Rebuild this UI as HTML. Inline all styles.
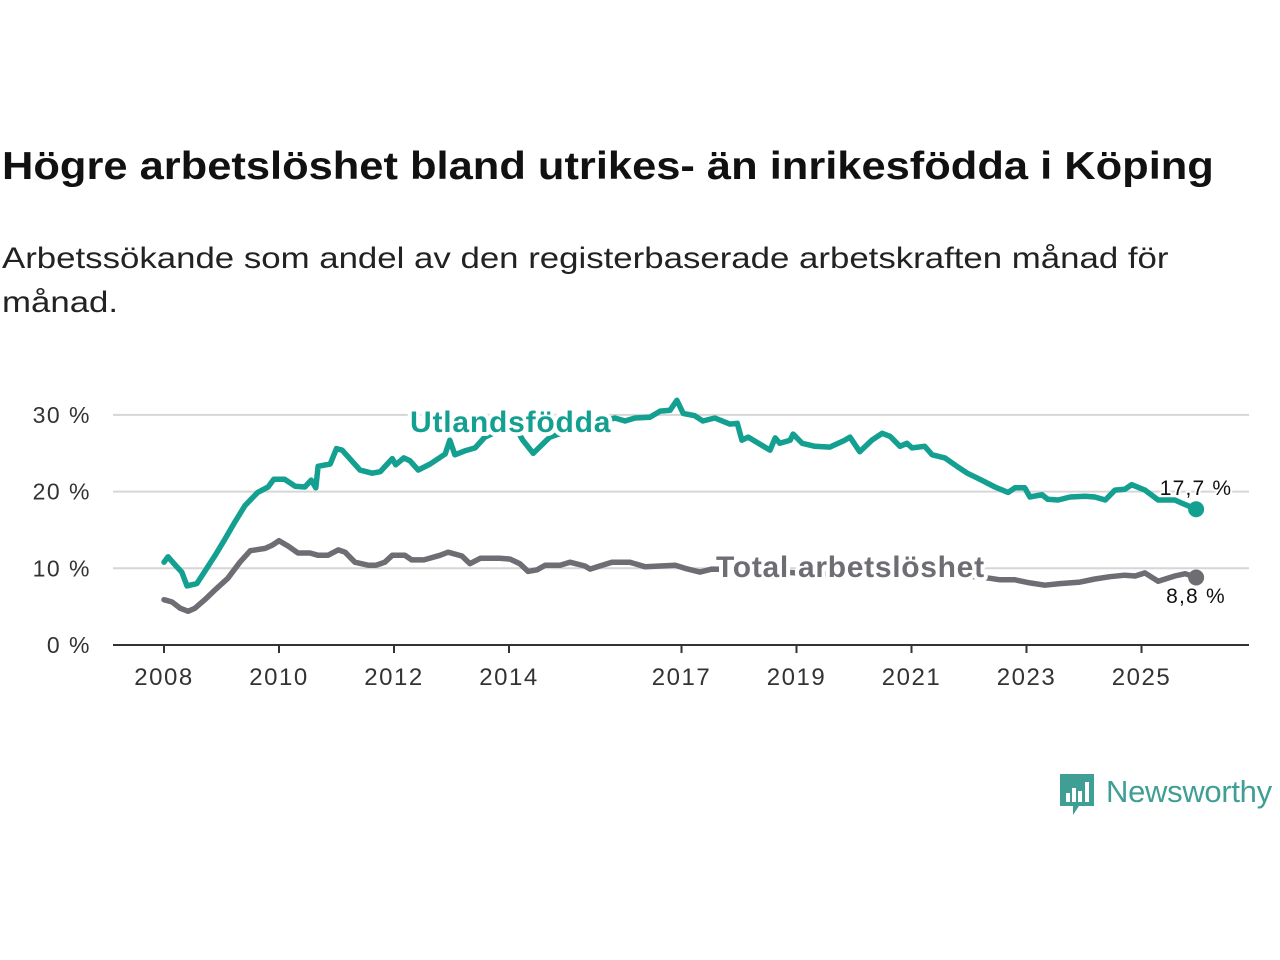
<!DOCTYPE html>
<html><head><meta charset="utf-8">
<style>
body{margin:0;background:#fff;width:1280px;height:960px;overflow:hidden;font-family:"Liberation Sans",sans-serif;}
#title{position:absolute;left:2px;top:145px;font-size:39px;font-weight:bold;color:#111;margin:0;white-space:nowrap;transform:scaleX(1.114);transform-origin:0 0}
#sub{position:absolute;left:2px;top:237px;font-size:30px;color:#222;line-height:44px;white-space:nowrap;margin:0;transform:scaleX(1.16);transform-origin:0 0}
svg{position:absolute;left:0;top:0}
</style></head><body>
<h1 id="title">Högre arbetslöshet bland utrikes- än inrikesfödda i Köping</h1>
<p id="sub">Arbetssökande som andel av den registerbaserade arbetskraften månad för<br>månad.</p>
<svg id="chart" width="1280" height="960"></svg>
<script>
const yTicks=[0,10,20,30];
const xTicks=[2008,2010,2012,2014,2017,2019,2021,2023,2025];
const utlDates=[2008.00,2008.07,2008.21,2008.31,2008.40,2008.57,2008.71,2008.89,2009.06,2009.23,2009.41,2009.63,2009.81,2009.91,2010.10,2010.28,2010.45,2010.56,2010.64,2010.68,2010.89,2011.00,2011.10,2011.23,2011.41,2011.62,2011.76,2011.97,2012.03,2012.17,2012.28,2012.42,2012.63,2012.89,2012.97,2013.06,2013.23,2013.41,2013.58,2013.84,2014.10,2014.24,2014.42,2014.71,2015.06,2015.41,2015.67,2015.84,2016.02,2016.19,2016.45,2016.63,2016.80,2016.92,2017.03,2017.23,2017.37,2017.58,2017.84,2017.97,2018.05,2018.16,2018.54,2018.63,2018.71,2018.89,2018.94,2019.10,2019.32,2019.58,2019.84,2019.93,2020.10,2020.31,2020.49,2020.63,2020.80,2020.92,2021.01,2021.23,2021.36,2021.58,2021.81,2021.97,2022.19,2022.45,2022.68,2022.80,2022.97,2023.06,2023.27,2023.37,2023.55,2023.76,2024.02,2024.19,2024.37,2024.54,2024.71,2024.83,2025.06,2025.29,2025.58,2025.70,2025.95];
const utlValues=[10.8,11.5,10.3,9.5,7.7,8.0,9.6,11.7,13.8,16.0,18.2,19.9,20.6,21.6,21.6,20.7,20.6,21.5,20.5,23.3,23.6,25.6,25.4,24.3,22.8,22.4,22.6,24.3,23.5,24.4,24.0,22.8,23.6,24.9,26.7,24.8,25.3,25.7,27.1,28.0,28.5,26.7,25.0,27.1,28.0,28.8,29.2,29.6,29.2,29.6,29.7,30.5,30.6,31.9,30.2,29.9,29.2,29.6,28.8,28.9,26.7,27.1,25.4,27.0,26.3,26.7,27.5,26.3,25.9,25.8,26.7,27.1,25.2,26.7,27.6,27.2,25.9,26.3,25.7,25.9,24.8,24.4,23.2,22.4,21.6,20.6,19.9,20.5,20.5,19.3,19.6,19.0,18.9,19.3,19.4,19.3,18.9,20.2,20.3,20.9,20.2,18.9,18.9,18.5,17.7];
const totDates=[2008.00,2008.14,2008.28,2008.42,2008.54,2008.71,2008.89,2009.11,2009.32,2009.50,2009.76,2009.88,2010.00,2010.16,2010.33,2010.54,2010.68,2010.85,2011.03,2011.15,2011.32,2011.55,2011.69,2011.84,2011.97,2012.19,2012.31,2012.52,2012.80,2012.94,2013.18,2013.32,2013.50,2013.84,2014.02,2014.19,2014.33,2014.49,2014.63,2014.89,2015.06,2015.32,2015.41,2015.58,2015.79,2016.10,2016.37,2016.63,2016.89,2017.06,2017.32,2017.53,2018.0,2018.5,2019.0,2019.5,2020.0,2020.5,2021.0,2021.5,2022.0,2022.37,2022.54,2022.80,2023.06,2023.32,2023.58,2023.93,2024.19,2024.45,2024.71,2024.89,2025.06,2025.29,2025.58,2025.76,2025.95];
const totValues=[5.9,5.6,4.8,4.4,4.8,5.9,7.2,8.7,10.8,12.3,12.6,13.0,13.6,12.9,12.0,12.0,11.7,11.7,12.4,12.1,10.8,10.4,10.4,10.8,11.7,11.7,11.1,11.1,11.7,12.1,11.6,10.6,11.3,11.3,11.2,10.6,9.6,9.8,10.4,10.4,10.8,10.3,9.9,10.3,10.8,10.8,10.2,10.3,10.4,10.0,9.5,9.9,9.8,9.6,9.4,9.3,9.5,10.0,9.8,9.4,9.0,8.7,8.5,8.5,8.1,7.8,8.0,8.2,8.6,8.9,9.1,9.0,9.4,8.3,9.0,9.3,8.8];
const NS='http://www.w3.org/2000/svg';
const svg=document.getElementById('chart');
const X=y=>164+(y-2008)*57.5;
const Y=v=>645-v*7.67;
function mk(t,a,p){const e=document.createElementNS(NS,t);for(const k in a)e.setAttribute(k,a[k]);(p||svg).appendChild(e);return e;}
yTicks.forEach(v=>{
  if(v>0){const g=mk('line',{x1:113,x2:1249,y1:Y(v),y2:Y(v),stroke:'#d6d6d6','stroke-width':2});
  
  }
  const t=mk('text',{x:91,y:Y(v)+8,'text-anchor':'end','font-size':23,'letter-spacing':1.5,fill:'#333','font-family':'Liberation Sans, sans-serif'});
  t.textContent=v+' %';
  
  
});
const ax=mk('line',{x1:113,x2:1249,y1:645,y2:645,stroke:'#333','stroke-width':2});


xTicks.forEach(y=>{
  const tk=mk('line',{x1:X(y),x2:X(y),y1:645,y2:653,stroke:'#333','stroke-width':2});
  
  
  const t=mk('text',{x:X(y),y:685,'text-anchor':'middle','font-size':24,'letter-spacing':1.5,fill:'#333','font-family':'Liberation Sans, sans-serif'});
  t.textContent=y;
  
  
});
function line(d,v,c,name){
  const p=mk('path',{d:d.map((x,i)=>(i?'L':'M')+X(x).toFixed(1)+','+Y(v[i]).toFixed(1)).join(''),fill:'none',stroke:c,'stroke-width':5.5,'stroke-linejoin':'round','stroke-linecap':'round'});
  
  
  const n=d.length-1;
  const c2=mk('circle',{cx:X(d[n]),cy:Y(v[n]),r:8,fill:c});
  
  
}
const TEAL='#14a090',GRAY='#6e6d73';
line(totDates,totValues,GRAY,'total-line');
line(utlDates,utlValues,TEAL,'utlandsfodda-line');
function lab(txt,x,y,c,size,w,name,anchor,ls){
  const t=mk('text',{x:x,y:y,'font-size':size,'font-weight':w,'letter-spacing':ls||0,fill:c,stroke:'#fff','stroke-width':w=='bold'?8:4,'paint-order':'stroke','stroke-linejoin':'round','text-anchor':anchor||'start','font-family':'Liberation Sans, sans-serif'});
  t.textContent=txt;
  
  
}
lab('Utlandsfödda',410,432,TEAL,30,'bold','utlandsfodda-label','start',0.8);
lab('Total arbetslöshet',716,577,GRAY,30,'bold','total-label','start',0.7);
lab('17,7 %',1196,495,'#111',21,'normal','utl-end-value','middle',1.2);
lab('8,8 %',1196,603,'#111',21,'normal','total-end-value','middle',1.2);
</script>
<div style="position:absolute;left:1058px;top:772px;height:46px;display:flex;align-items:center">
<svg width="38" height="46" style="position:static"><path d="M2 2h34v32H21l-6 9v-9H2z" fill="#3f9f94"/><rect x="8" y="21" width="4" height="9" fill="#fff"/><rect x="14" y="16" width="4" height="14" fill="#fff"/><rect x="20" y="19" width="4" height="11" fill="#fff"/><rect x="27" y="10" width="4" height="20" fill="#fff"/></svg>
<span style="font-size:31px;color:#3f9f94;margin-left:10px;margin-top:-6px;letter-spacing:-0.3px">Newsworthy</span></div>
</body></html>
